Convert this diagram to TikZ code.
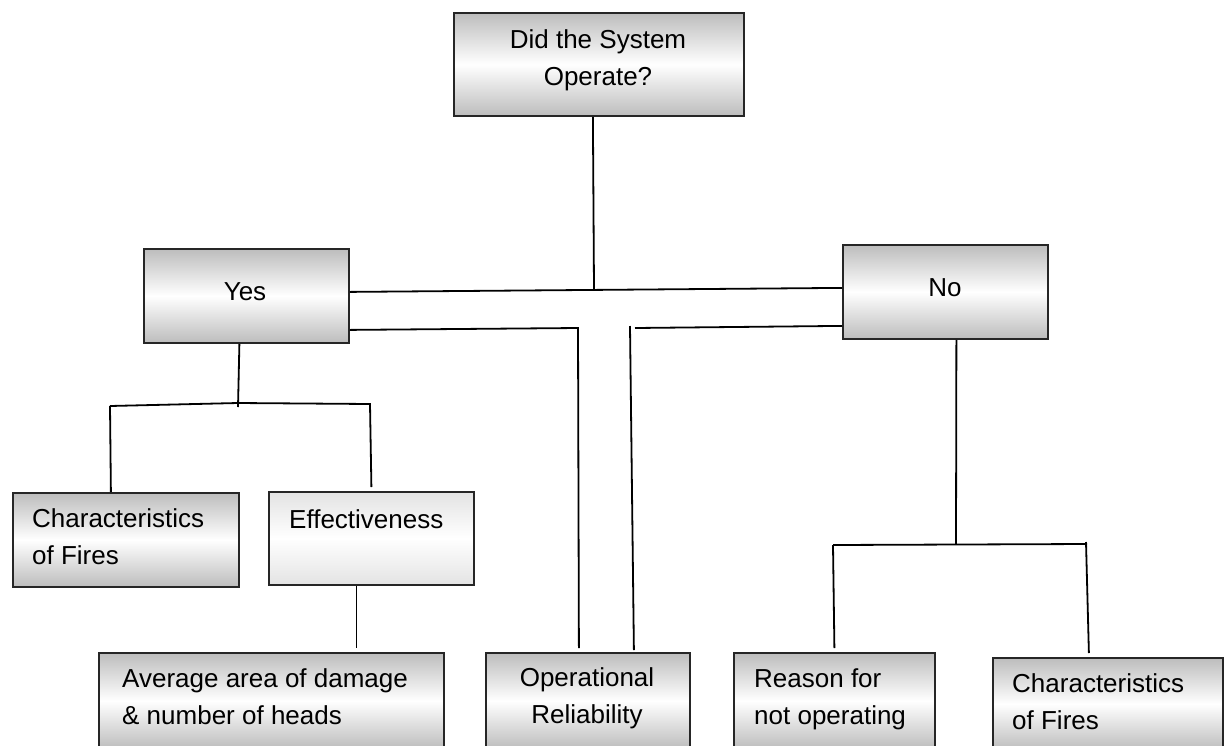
\documentclass[tikz,border=0pt]{standalone}
\usepackage{fontspec}
\setmainfont{Liberation Sans}
\begin{document}
\begin{tikzpicture}[x=1pt,y=-1pt,
  box/.style={draw=black!85, line width=1.8pt, top color=gray!52, bottom color=gray!52, middle color=white, inner sep=0pt, anchor=north west},
  lightbox/.style={box, top color=gray!22, bottom color=gray!22, middle color=white},
  lbl/.style={font=\fontsize{26}{37}\selectfont, inner sep=0pt},
  wire/.style={line width=1.8pt, black}]
\useasboundingbox (0,0) rectangle (1232,745);
\clip (0,0) rectangle (1232,745);
\fill[white] (0,0) rectangle (1232,745);
% boxes
\node[box, minimum width=290pt, minimum height=103pt] (top) at (453,12) {};
\node[box, minimum width=205pt, minimum height=94pt] (yes) at (143,248) {};
\node[box, minimum width=205pt, minimum height=94pt] (no) at (842,244) {};
\node[box, minimum width=226pt, minimum height=94pt] (char1) at (12,492) {};
\node[lightbox, minimum width=205pt, minimum height=93pt] (eff) at (268,491) {};
\node[box, minimum width=345pt, minimum height=96pt] (avg) at (98,652) {};
\node[box, minimum width=204pt, minimum height=96pt] (oper) at (485,652) {};
\node[box, minimum width=201pt, minimum height=96pt] (reason) at (733,652) {};
\node[box, minimum width=230pt, minimum height=92pt] (char2) at (992,657) {};
% texts
\node[lbl, align=center] (topT) at (598,60) {Did the System\\Operate?};
\node[lbl] (yesT) at (245,292) {Yes};
\node[lbl] (noT) at (945,288) {No};
\node[lbl, align=left, anchor=west] (char1T) at (32,537) {Characteristics\\of Fires};
\node[lbl, anchor=west] (effT) at (289,519) {Effectiveness};
\node[lbl, align=left, anchor=west] (avgT) at (122,697) {Average area of damage\\\& number of heads};
\node[lbl, align=center] (operT) at (587,698) {Operational\\Reliability};
\node[lbl, align=left, anchor=west] (reasonT) at (754,699) {Reason for\\not operating};
\node[lbl, align=left, anchor=west] (char2T) at (1012,702) {Characteristics\\of Fires};
% junctions
\coordinate (jt) at (594,289);
\coordinate (yl) at (578,328);
\coordinate (rv) at (630,326);
\coordinate (rh) at (635,328);
\coordinate (jy) at (238,403);
\coordinate (yl1) at (110,406);
\coordinate (yr1) at (370,404);
\coordinate (jn) at (956,544);
\coordinate (nl1) at (833,545);
\coordinate (nr1) at (1087,544);
\coordinate (nr0) at (1086,542);
% connectors
\draw[wire] ([yshift=4pt]yes.east) -- ([yshift=4pt]no.west);
\draw[wire] ([xshift=-6pt]top.south) -- (jt);
\draw[wire] ([yshift=-34pt]yes.east) -- (yl) -- ([xshift=-9pt,yshift=4pt]oper.north);
\draw[wire] (rv) -- ([xshift=46pt,yshift=2pt]oper.north);
\draw[wire] (rh) -- ([yshift=-34pt]no.west);
\draw[wire] ([xshift=-7pt]yes.south) -- ([yshift=-4pt]jy);
\draw[wire] (yl1) -- (jy) -- (yr1) -- ([yshift=4pt]eff.north);
\draw[wire] (yl1) -- ([xshift=-15pt]char1.north);
\draw[wire] ([xshift=-15pt]eff.south) -- ([xshift=-15pt,yshift=4pt]eff.south |- avg.north);
\draw[wire] ([xshift=11pt]no.south) -- (jn);
\draw[wire] (nl1) -- (nr1);
\draw[wire] (nl1) -- ([yshift=4pt]reason.north);
\draw[wire] (nr0) -- ([xshift=-19pt,yshift=4pt]char2.north);
\end{tikzpicture}
\end{document}
